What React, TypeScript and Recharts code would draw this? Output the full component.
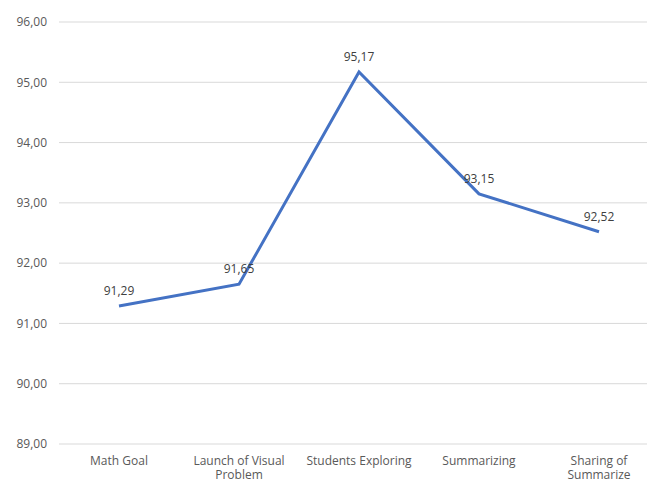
import React from 'react';
import { LineChart, Line, XAxis, YAxis, CartesianGrid, LabelList } from 'recharts';

// Lesson phases along the x axis (line breaks as they wrap under each point)
const phases = [
  'Math Goal',
  'Launch of Visual\nProblem',
  'Students Exploring',
  'Summarizing',
  'Sharing of\nSummarize',
];

// Mean score per phase
const scores = [91.29, 91.65, 95.17, 93.15, 92.52];

// Y axis ticks
const yTicks = [89, 90, 91, 92, 93, 94, 95, 96];

const data = phases.map((phase, i) => ({ phase, score: scores[i] }));

const fmt = (v: number) => v.toFixed(2).replace('.', ',');

const FONT = '"Open Sans", "Noto Sans", sans-serif';

const PhaseTick = (props: any) => {
  const { x, y, payload } = props;
  const lines = String(payload.value).split('\n');
  return (
    <text
      x={x}
      y={y + 19}
      textAnchor="middle"
      fontFamily={FONT}
      fontSize={12}
      fill="#595959"
    >
      {lines.map((line, i) => (
        <tspan key={i} x={x} dy={i === 0 ? 0 : 14}>
          {line}
        </tspan>
      ))}
    </text>
  );
};

export default function App() {
  return (
    <div style={{ position: 'absolute', left: 0, top: 0, width: 647, height: 480, overflow: 'hidden', background: '#fff' }}>
      <LineChart
        width={660}
        height={480}
        data={data}
        margin={{ top: 22, right: 1, bottom: 0, left: 0 }}
      >
        <CartesianGrid vertical={false} stroke="#d9d9d9" strokeWidth={1} />
        <XAxis
          dataKey="phase"
          scale="band"
          height={36}
          axisLine={false}
          tickLine={false}
          tickSize={0}
          interval={0}
          tick={<PhaseTick />}
        />
        <YAxis
          domain={[89, 96]}
          ticks={yTicks}
          width={59}
          axisLine={false}
          tickLine={false}
          tickSize={0}
          tickMargin={12}
          tickFormatter={fmt}
          tick={{ fontFamily: FONT, fontSize: 12, fill: '#595959' }}
        />
        <Line
          type="linear"
          dataKey="score"
          stroke="#4472c4"
          strokeWidth={3}
          dot={false}
          isAnimationActive={false}
        >
          <LabelList
            dataKey="score"
            position="top"
            offset={11}
            formatter={(v: any) => fmt(Number(v))}
            style={{ fontFamily: FONT, fontSize: 12, fill: '#404040' }}
          />
        </Line>
      </LineChart>
    </div>
  );
}
